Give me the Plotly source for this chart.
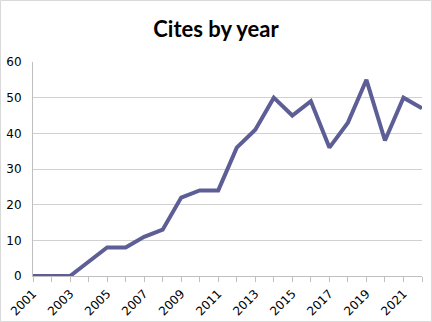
import plotly.graph_objects as go

years = list(range(2001, 2023))
cites = [0, 0, 0, 4, 8, 8, 11, 13, 22, 24, 24, 36, 41, 50, 45, 49, 36, 43, 55, 38, 50, 47]
y_ticks = [0, 10, 20, 30, 40, 50, 60]
x_ticks = list(range(2001, 2023, 2))

W, H = 432, 322
L, R, T, B = 33, 10, 62, 46
pw, ph = W - L - R, H - T - B

fig = go.Figure()
fig.add_trace(go.Scatter(x=years, y=cites, mode="lines",
                         line=dict(color="#5E5E96", width=4), hoverinfo="skip"))

def px_to_paper_x(p):
    return (p - L) / pw

def px_to_paper_y(p):
    return (H - B - p) / ph

tick_font = dict(family="DejaVu Sans, Verdana, sans-serif", size=12, color="black")

fig.update_layout(
    width=W, height=H,
    margin=dict(l=L, r=R, t=T, b=B, autoexpand=False),
    paper_bgcolor="white", plot_bgcolor="white",
    showlegend=False,
    font=tick_font,
    title=dict(text="<b>Cites by year</b>", x=0.5, xanchor="center",
               y=1 - 29 / H, yanchor="middle",
               font=dict(family="Lato", size=22, color="black")),
    xaxis=dict(range=[2001, 2022], tickmode="array", tickvals=x_ticks,
               ticktext=[str(v) for v in x_ticks], tickangle=-45,
               showgrid=False, zeroline=False, showline=True,
               linecolor="#BFBFBF", linewidth=1, automargin=False,
               ticks="outside", ticklen=5, tickcolor="#BFBFBF",
               minor=dict(dtick=1, tick0=2001, ticks="outside", ticklen=5,
                          tickcolor="#BFBFBF", showgrid=False),
               fixedrange=True, tickfont=tick_font),
    yaxis=dict(range=[0, 60], tickvals=y_ticks, showgrid=True,
               gridcolor="#D0D0D0", gridwidth=1, zeroline=False,
               showline=True, linecolor="#BFBFBF", linewidth=1,
               ticks="", ticklabelstandoff=8, fixedrange=True,
               automargin=False, tickfont=tick_font),
    shapes=[dict(type="rect", xref="paper", yref="paper",
                 x0=px_to_paper_x(0.5), x1=px_to_paper_x(W - 0.5),
                 y0=px_to_paper_y(H - 0.5), y1=px_to_paper_y(0.5),
                 line=dict(color="#D9D9D9", width=1), layer="below")],
)

fig.write_html("out.html")
